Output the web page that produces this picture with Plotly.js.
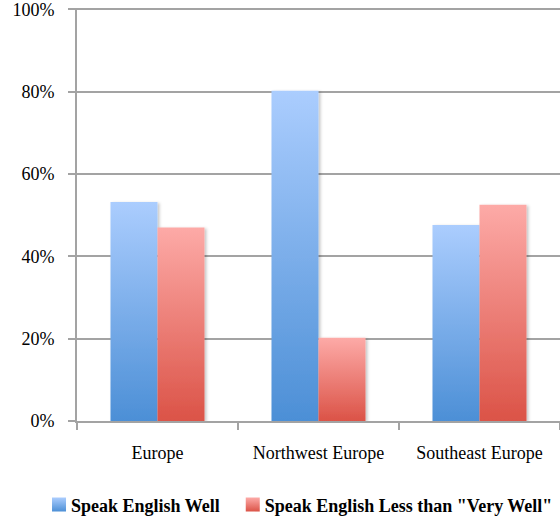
<!DOCTYPE html>
<html>
<head>
<meta charset="utf-8">
<script src="https://cdn.plot.ly/plotly-3.0.1.min.js"></script>
<style>html,body{margin:0;padding:0;background:#fff;}#chart{width:560px;height:519px;}</style>
</head>
<body>
<div id="chart"></div>
<script>
const categories = ['Europe', 'Northwest Europe', 'Southeast Europe'];
const speakWell = [53.2, 80.2, 47.6];
const speakLess = [47.0, 20.2, 52.5];
const seriesNames = ['Speak English Well', 'Speak English Less than "Very Well"'];
const yTickVals = [0, 20, 40, 60, 80, 100];
const yTickText = ['0%', '20%', '40%', '60%', '80%', '100%'];

const serif = '"Liberation Serif", "Times New Roman", Times, serif';
const gradients = [
  {id: 'gradBlue', top: '#abcdfe', bottom: '#4c8fd6'},
  {id: 'gradRed', top: '#fdaaa7', bottom: '#db5347'}
];

const traces = [
  {type: 'bar', x: categories, y: speakWell, name: seriesNames[0],
   marker: {color: '#7aaeea', line: {width: 0}}, hoverinfo: 'none'},
  {type: 'bar', x: categories, y: speakLess, name: seriesNames[1],
   marker: {color: '#ee7f78', line: {width: 0}}, hoverinfo: 'none'}
];

const layout = {
  width: 560, height: 519,
  margin: {l: 77, r: 0, t: 8, b: 98, autoexpand: false},
  paper_bgcolor: '#ffffff', plot_bgcolor: '#ffffff',
  font: {family: serif, size: 18, color: '#000000'},
  barmode: 'group', bargap: 0.416, bargroupgap: 0,
  showlegend: true,
  legend: {orientation: 'h', x: -0.0952, xanchor: 'left', y: -0.203, yanchor: 'middle',
           font: {family: serif, size: 18, weight: 'bold', color: '#000'},
           itemwidth: 30, tracegroupgap: 0, bgcolor: 'rgba(0,0,0,0)'},
  xaxis: {type: 'category', range: [-0.5, 2.5], tickson: 'boundaries',
          showline: true, linecolor: '#a3a3a3', linewidth: 2,
          ticks: 'outside', ticklen: 7, tickwidth: 2, tickcolor: '#a3a3a3',
          showgrid: false, zeroline: false, ticklabelstandoff: 14,
          tickfont: {family: serif, size: 18}},
  yaxis: {range: [0, 100.3], tickvals: yTickVals, ticktext: yTickText,
          showline: true, linecolor: '#a3a3a3', linewidth: 2,
          ticks: 'outside', ticklen: 7, tickwidth: 2, tickcolor: '#a3a3a3',
          showgrid: true, gridcolor: '#a3a3a3', gridwidth: 2, zeroline: false,
          ticklabeloverflow: 'allow', ticklabelstandoff: 10,
          tickfont: {family: serif, size: 18}}
};

const ns = 'http://www.w3.org/2000/svg';
function ensureDefs(gd) {
  if (document.getElementById('gradBlue')) return;
  const svg = gd.querySelector('svg.main-svg');
  let defs = svg.querySelector('defs');
  if (!defs) { defs = document.createElementNS(ns, 'defs'); svg.insertBefore(defs, svg.firstChild); }
  gradients.forEach(g => {
    const lg = document.createElementNS(ns, 'linearGradient');
    lg.setAttribute('id', g.id);
    lg.setAttribute('x1', '0'); lg.setAttribute('y1', '0');
    lg.setAttribute('x2', '0'); lg.setAttribute('y2', '1');
    const s1 = document.createElementNS(ns, 'stop');
    s1.setAttribute('offset', '0'); s1.setAttribute('stop-color', g.top);
    const s2 = document.createElementNS(ns, 'stop');
    s2.setAttribute('offset', '1'); s2.setAttribute('stop-color', g.bottom);
    lg.appendChild(s1); lg.appendChild(s2); defs.appendChild(lg);
  });
  const f = document.createElementNS(ns, 'filter');
  f.setAttribute('id', 'barShadow');
  f.setAttribute('x', '-20%'); f.setAttribute('y', '-10%');
  f.setAttribute('width', '150%'); f.setAttribute('height', '130%');
  const ds = document.createElementNS(ns, 'feDropShadow');
  ds.setAttribute('dx', '2'); ds.setAttribute('dy', '1');
  ds.setAttribute('stdDeviation', '1.5');
  ds.setAttribute('flood-color', '#000'); ds.setAttribute('flood-opacity', '0.22');
  f.appendChild(ds); defs.appendChild(f);
}
function applyGradients() {
  const gd = document.getElementById('chart');
  ensureDefs(gd);
  gd.querySelectorAll('.barlayer .trace.bars').forEach((tr, i) => {
    tr.querySelectorAll('.point path').forEach(p => {
      p.style.fill = 'url(#' + gradients[i].id + ')';
      p.setAttribute('filter', 'url(#barShadow)');
    });
  });
  gd.querySelectorAll('.legend .traces').forEach((tr, i) => {
    tr.querySelectorAll('.legendpoints path').forEach(p => {
      p.style.fill = 'url(#' + gradients[i].id + ')';
      p.style.stroke = 'none';
      p.setAttribute('d', 'M15,7H1V-7H15Z');
    });
  });
}

const gd = document.getElementById('chart');
Plotly.newPlot(gd, traces, layout, {displayModeBar: false, staticPlot: true})
  .then(() => {
    applyGradients();
    gd.on('plotly_afterplot', applyGradients);
  });
</script>
</body>
</html>
